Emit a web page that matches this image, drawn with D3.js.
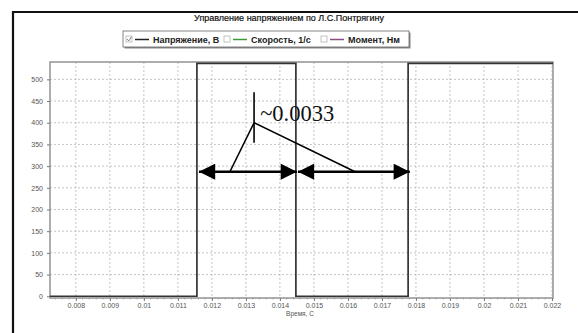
<!DOCTYPE html>
<html>
<head>
<meta charset="utf-8">
<script src="https://cdn.jsdelivr.net/npm/d3@7"></script>
<style>
  body { margin: 0; background: #fff; }
  svg { display: block; font-family: "Liberation Sans", Arial, sans-serif; }
  .tick text { fill: #555; font-size: 7px; }
</style>
</head>
<body>
<div id="chart-area"></div>
<script>
// data
let titleText = 'Управление напряжением по Л.С.Понтрягину'
let seriesNames = ['Напряжение, В', 'Скорость, 1/с', 'Момент, Нм']
let seriesColors = ['#222', '#3a9a3a', '#8a4a8a']
let seriesChecked = [true, false, false]

let times = [0.00724, 0.01156, 0.01156, 0.01447, 0.01447, 0.01777, 0.01777, 0.02203]
let volts = [0, 0, 537, 537, 0, 0, 537, 537]

let xTicks = [0.008, 0.009, 0.01, 0.011, 0.012, 0.013, 0.014, 0.015, 0.016, 0.017, 0.018, 0.019, 0.02, 0.021, 0.022]
let yTicks = [0, 50, 100, 150, 200, 250, 300, 350, 400, 450, 500]

// annotation, in data units
let arrowLevel = 287
let arrowSpans = [[0.01162, 0.0145], [0.01453, 0.01782]]
let markT = 0.01324
let markTop = 470, markBottom = 354, apex = 400
let legFeet = [0.01253, 0.01621]
let noteText = '~0.0033'

let width = 578, height = 333
let margin = { top: 62, right: 25, bottom: 35, left: 50 }

let svg = d3.select('#chart-area').append('svg')
	.attr('width', width)
	.attr('height', height)

// outer frame (right and bottom edges fall outside the picture)
svg.append('path')
	.attr('d', 'M13,' + height + ' V12 H' + width)
	.attr('fill', 'none')
	.attr('stroke', '#111')
	.attr('stroke-width', 2.2)

svg.append('text')
	.attr('x', 289)
	.attr('y', 21)
	.attr('text-anchor', 'middle')
	.attr('font-size', 9)
	.attr('fill', '#111')
	.attr('stroke', '#111')
	.attr('stroke-width', 0.2)
	.text(titleText)

// LEGEND
let legendW = 286, legendH = 16
let legend = svg.append('g').attr('transform', 'translate(123, 31)')
legend.append('rect')
	.attr('x', 1.5).attr('y', 1.5)
	.attr('width', legendW).attr('height', legendH)
	.attr('fill', '#888')
legend.append('rect')
	.attr('width', legendW).attr('height', legendH)
	.attr('fill', '#fff')
	.attr('stroke', '#666')
	.attr('stroke-width', 0.8)

let itemX = [3, 101, 198]
seriesNames.forEach((name, i) => {
	let g = legend.append('g').attr('transform', 'translate(' + itemX[i] + ', 0)')
	g.append('rect')
		.attr('x', 0).attr('y', 5)
		.attr('width', 6).attr('height', 6)
		.attr('fill', '#fff')
		.attr('stroke', '#aaa')
		.attr('stroke-width', 0.7)
	if (seriesChecked[i]) {
		g.append('path')
			.attr('d', 'M1,8 L2.8,10 L5.5,5.8')
			.attr('fill', 'none')
			.attr('stroke', '#777')
			.attr('stroke-width', 0.9)
	}
	g.append('line')
		.attr('x1', 9).attr('x2', 23)
		.attr('y1', 8.5).attr('y2', 8.5)
		.attr('stroke', seriesColors[i])
		.attr('stroke-width', 1.5)
	g.append('text')
		.attr('x', 27).attr('y', 12)
		.attr('font-size', 9)
		.attr('font-weight', 'bold')
		.attr('fill', '#222')
		.text(name)
})

// PLOT AREA
let x = d3.scaleLinear()
	.domain([0.00724, 0.02203])
	.range([margin.left, width - margin.right])

let y = d3.scaleLinear()
	.domain([-4, 540])
	.range([height - margin.bottom, margin.top])

let graphGroup = svg.append('g')

graphGroup.append('rect')
	.attr('x', margin.left).attr('y', margin.top)
	.attr('width', width - margin.right - margin.left)
	.attr('height', height - margin.bottom - margin.top)
	.attr('fill', '#fff')

// grid
graphGroup.append('g')
	.selectAll('line')
	.data(xTicks)
	.join('line')
	.attr('x1', d => x(d)).attr('x2', d => x(d))
	.attr('y1', margin.top).attr('y2', height - margin.bottom)
	.attr('stroke', '#aaa')
	.attr('stroke-width', 0.7)
	.attr('stroke-dasharray', '2,2')

graphGroup.append('g')
	.selectAll('line')
	.data(yTicks.slice(1))
	.join('line')
	.attr('x1', margin.left).attr('x2', width - margin.right)
	.attr('y1', d => y(d)).attr('y2', d => y(d))
	.attr('stroke', '#aaa')
	.attr('stroke-width', 0.7)
	.attr('stroke-dasharray', '2,2')

// frame of plot
graphGroup.append('rect')
	.attr('x', margin.left).attr('y', margin.top)
	.attr('width', width - margin.right - margin.left)
	.attr('height', height - margin.bottom - margin.top)
	.attr('fill', 'none')
	.attr('stroke', '#999')
	.attr('stroke-width', 1.6)

// X AXIS
let xAxisGroup = svg.append('g')
	.attr('transform', 'translate(0, ' + (height - margin.bottom) + ')')
	.call(d3.axisBottom(x)
		.tickValues(xTicks)
		.tickSize(3)
		.tickPadding(2)
		.tickFormat(d => String(+d.toFixed(3))))
xAxisGroup.select('.domain').remove()
xAxisGroup.selectAll('.tick line').attr('stroke', '#777')

let minorTicks = d3.range(0.0074, 0.0221, 0.0002).filter(t => xTicks.every(m => Math.abs(m - t) > 0.00001))
svg.append('g')
	.selectAll('line')
	.data(minorTicks)
	.join('line')
	.attr('x1', d => x(d)).attr('x2', d => x(d))
	.attr('y1', height - margin.bottom).attr('y2', height - margin.bottom + 1.5)
	.attr('stroke', '#888')
	.attr('stroke-width', 0.6)

svg.append('text')
	.attr('x', 300)
	.attr('y', 316)
	.attr('text-anchor', 'middle')
	.attr('font-size', 6.5)
	.attr('fill', '#555')
	.text('Время, С')

// Y AXIS
let yAxisGroup = svg.append('g')
	.attr('transform', 'translate(' + margin.left + ', 0)')
	.call(d3.axisLeft(y)
		.tickValues(yTicks)
		.tickSize(3)
		.tickPadding(4))
yAxisGroup.select('.domain').remove()
yAxisGroup.selectAll('.tick line').attr('stroke', '#777')

// SIGNAL
let line = d3.line()
	.x((d, i) => x(times[i]))
	.y(d => y(d))

graphGroup.append('path')
	.datum(volts)
	.attr('d', line)
	.attr('fill', 'none')
	.attr('stroke', '#333')
	.attr('stroke-width', 1.7)

// ANNOTATION
let note = svg.append('g')
let defs = svg.append('defs')
defs.append('marker')
	.attr('id', 'head')
	.attr('viewBox', '0 0 10 10')
	.attr('refX', 10).attr('refY', 5)
	.attr('markerWidth', 6.5).attr('markerHeight', 6)
	.attr('markerUnits', 'strokeWidth')
	.attr('orient', 'auto-start-reverse')
	.append('path')
	.attr('d', 'M0,0 L10,5 L0,10 Z')
	.attr('fill', '#000')

arrowSpans.forEach(s => {
	note.append('line')
		.attr('x1', x(s[0])).attr('x2', x(s[1]))
		.attr('y1', y(arrowLevel)).attr('y2', y(arrowLevel))
		.attr('stroke', '#000')
		.attr('stroke-width', 2.7)
		.attr('marker-start', 'url(#head)')
		.attr('marker-end', 'url(#head)')
})

note.append('line')
	.attr('x1', x(markT)).attr('x2', x(markT))
	.attr('y1', y(markTop)).attr('y2', y(markBottom))
	.attr('stroke', '#000')
	.attr('stroke-width', 1.6)

legFeet.forEach(t => {
	note.append('line')
		.attr('x1', x(markT)).attr('y1', y(apex))
		.attr('x2', x(t)).attr('y2', y(arrowLevel))
		.attr('stroke', '#000')
		.attr('stroke-width', 1.6)
})

note.append('text')
	.attr('x', x(0.01342))
	.attr('y', y(405))
	.attr('font-family', '"Liberation Serif", "Times New Roman", serif')
	.attr('font-size', 22.5)
	.attr('fill', '#111')
	.text(noteText)
</script>
</body>
</html>
